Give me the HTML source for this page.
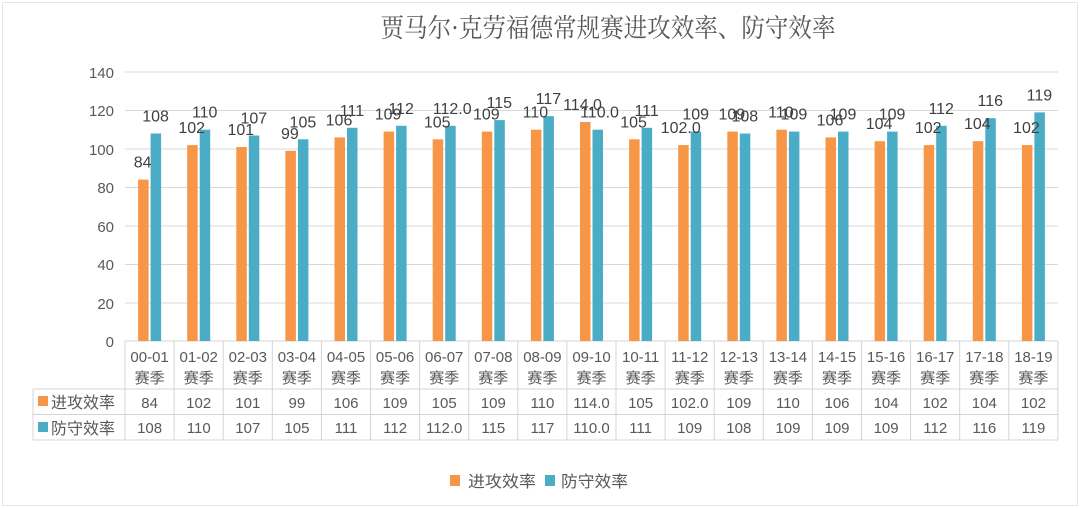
<!DOCTYPE html>
<html><head><meta charset="utf-8"><style>
html,body{margin:0;padding:0;background:#fff;}
svg{display:block;}
text{font-family:"Liberation Sans","Noto Sans CJK SC",sans-serif;fill:#595959;}
.t{font-size:15px;text-anchor:middle;}
.d{font-size:16px;text-anchor:middle;fill:#404040;}
.ax{font-size:15px;text-anchor:end;}
</style></head><body>
<svg width="1080" height="508" viewBox="0 0 1080 508" xmlns="http://www.w3.org/2000/svg">
<rect x="2.5" y="2.5" width="1075" height="503" fill="#fff" stroke="#e6e6e6"/>
<text x="608" y="37" style="font-family:'Noto Serif CJK SC','Liberation Serif',serif;font-size:26px;text-anchor:middle;fill:#595959" textLength="455" lengthAdjust="spacingAndGlyphs">贾马尔·克劳福德常规赛进攻效率、防守效率</text>
<g stroke="#d9d9d9" stroke-width="1">
<line x1="125" y1="72" x2="1058" y2="72"/>
<line x1="125" y1="110.5" x2="1058" y2="110.5"/>
<line x1="125" y1="149" x2="1058" y2="149"/>
<line x1="125" y1="187.5" x2="1058" y2="187.5"/>
<line x1="125" y1="226" x2="1058" y2="226"/>
<line x1="125" y1="264.5" x2="1058" y2="264.5"/>
<line x1="125" y1="303" x2="1058" y2="303"/>
</g>
<g class="ax">
<text class="ax" x="114" y="78">140</text>
<text class="ax" x="114" y="116">120</text>
<text class="ax" x="114" y="155">100</text>
<text class="ax" x="114" y="193">80</text>
<text class="ax" x="114" y="232">60</text>
<text class="ax" x="114" y="270">40</text>
<text class="ax" x="114" y="309">20</text>
<text class="ax" x="114" y="347">0</text>
</g>
<!-- table lines -->
<g stroke="#d4d4d4" stroke-width="1" fill="none">
<line x1="125" y1="341" x2="1058" y2="341"/>
<line x1="33" y1="389" x2="1058" y2="389"/>
<line x1="33" y1="414.5" x2="1058" y2="414.5"/>
<line x1="33" y1="440" x2="1058" y2="440"/>
<line x1="33" y1="389" x2="33" y2="440"/>
<line x1="125" y1="341" x2="125" y2="440"/>
<line x1="174.1" y1="341" x2="174.1" y2="440"/>
<line x1="223.2" y1="341" x2="223.2" y2="440"/>
<line x1="272.3" y1="341" x2="272.3" y2="440"/>
<line x1="321.4" y1="341" x2="321.4" y2="440"/>
<line x1="370.5" y1="341" x2="370.5" y2="440"/>
<line x1="419.6" y1="341" x2="419.6" y2="440"/>
<line x1="468.7" y1="341" x2="468.7" y2="440"/>
<line x1="517.8" y1="341" x2="517.8" y2="440"/>
<line x1="566.9" y1="341" x2="566.9" y2="440"/>
<line x1="616" y1="341" x2="616" y2="440"/>
<line x1="665.1" y1="341" x2="665.1" y2="440"/>
<line x1="714.2" y1="341" x2="714.2" y2="440"/>
<line x1="763.3" y1="341" x2="763.3" y2="440"/>
<line x1="812.4" y1="341" x2="812.4" y2="440"/>
<line x1="861.5" y1="341" x2="861.5" y2="440"/>
<line x1="910.6" y1="341" x2="910.6" y2="440"/>
<line x1="959.7" y1="341" x2="959.7" y2="440"/>
<line x1="1008.8" y1="341" x2="1008.8" y2="440"/>
<line x1="1057.9" y1="341" x2="1057.9" y2="440"/>
</g>
<rect x="38" y="396" width="10" height="10" fill="#F79646"/>
<text x="51" y="408" style="font-size:16px">进攻效率</text>
<rect x="38" y="422" width="10" height="10" fill="#4BACC6"/>
<text x="51" y="434" style="font-size:16px">防守效率</text>

<g transform="translate(149.6,0)"><rect x="-11.5" y="179.6" width="10.5" height="161.4" fill="#F79646"/><rect x="1" y="133.5" width="10.5" height="207.5" fill="#4BACC6"/><text class="d" x="-7" y="167.6">84</text><text class="d" x="6" y="121.5">108</text><text class="t" x="0" y="362">00-01</text><text class="t" x="0" y="383">赛季</text><text class="t" x="0" y="408">84</text><text class="t" x="0" y="433">108</text></g>
<g transform="translate(198.7,0)"><rect x="-11.5" y="145.1" width="10.5" height="195.9" fill="#F79646"/><rect x="1" y="129.7" width="10.5" height="211.3" fill="#4BACC6"/><text class="d" x="-7" y="133.1">102</text><text class="d" x="6" y="117.7">110</text><text class="t" x="0" y="362">01-02</text><text class="t" x="0" y="383">赛季</text><text class="t" x="0" y="408">102</text><text class="t" x="0" y="433">110</text></g>
<g transform="translate(247.8,0)"><rect x="-11.5" y="147" width="10.5" height="194" fill="#F79646"/><rect x="1" y="135.5" width="10.5" height="205.5" fill="#4BACC6"/><text class="d" x="-7" y="135">101</text><text class="d" x="6" y="123.5">107</text><text class="t" x="0" y="362">02-03</text><text class="t" x="0" y="383">赛季</text><text class="t" x="0" y="408">101</text><text class="t" x="0" y="433">107</text></g>
<g transform="translate(296.9,0)"><rect x="-11.5" y="150.8" width="10.5" height="190.2" fill="#F79646"/><rect x="1" y="139.3" width="10.5" height="201.7" fill="#4BACC6"/><text class="d" x="-7" y="138.8">99</text><text class="d" x="6" y="127.3">105</text><text class="t" x="0" y="362">03-04</text><text class="t" x="0" y="383">赛季</text><text class="t" x="0" y="408">99</text><text class="t" x="0" y="433">105</text></g>
<g transform="translate(346,0)"><rect x="-11.5" y="137.4" width="10.5" height="203.6" fill="#F79646"/><rect x="1" y="127.8" width="10.5" height="213.2" fill="#4BACC6"/><text class="d" x="-7" y="125.4">106</text><text class="d" x="6" y="115.8">111</text><text class="t" x="0" y="362">04-05</text><text class="t" x="0" y="383">赛季</text><text class="t" x="0" y="408">106</text><text class="t" x="0" y="433">111</text></g>
<g transform="translate(395.1,0)"><rect x="-11.5" y="131.6" width="10.5" height="209.4" fill="#F79646"/><rect x="1" y="125.8" width="10.5" height="215.2" fill="#4BACC6"/><text class="d" x="-7" y="119.6">109</text><text class="d" x="6" y="113.8">112</text><text class="t" x="0" y="362">05-06</text><text class="t" x="0" y="383">赛季</text><text class="t" x="0" y="408">109</text><text class="t" x="0" y="433">112</text></g>
<g transform="translate(444.2,0)"><rect x="-11.5" y="139.3" width="10.5" height="201.7" fill="#F79646"/><rect x="1" y="125.8" width="10.5" height="215.2" fill="#4BACC6"/><text class="d" x="-7" y="127.3">105</text><text class="d" x="8" y="113.8">112.0</text><text class="t" x="0" y="362">06-07</text><text class="t" x="0" y="383">赛季</text><text class="t" x="0" y="408">105</text><text class="t" x="0" y="433">112.0</text></g>
<g transform="translate(493.3,0)"><rect x="-11.5" y="131.6" width="10.5" height="209.4" fill="#F79646"/><rect x="1" y="120.1" width="10.5" height="220.9" fill="#4BACC6"/><text class="d" x="-7" y="119.6">109</text><text class="d" x="6" y="108.1">115</text><text class="t" x="0" y="362">07-08</text><text class="t" x="0" y="383">赛季</text><text class="t" x="0" y="408">109</text><text class="t" x="0" y="433">115</text></g>
<g transform="translate(542.4,0)"><rect x="-11.5" y="129.7" width="10.5" height="211.3" fill="#F79646"/><rect x="1" y="116.2" width="10.5" height="224.8" fill="#4BACC6"/><text class="d" x="-7" y="117.7">110</text><text class="d" x="6" y="104.2">117</text><text class="t" x="0" y="362">08-09</text><text class="t" x="0" y="383">赛季</text><text class="t" x="0" y="408">110</text><text class="t" x="0" y="433">117</text></g>
<g transform="translate(591.5,0)"><rect x="-11.5" y="122" width="10.5" height="219" fill="#F79646"/><rect x="1" y="129.7" width="10.5" height="211.3" fill="#4BACC6"/><text class="d" x="-9" y="110">114.0</text><text class="d" x="8" y="117.7">110.0</text><text class="t" x="0" y="362">09-10</text><text class="t" x="0" y="383">赛季</text><text class="t" x="0" y="408">114.0</text><text class="t" x="0" y="433">110.0</text></g>
<g transform="translate(640.6,0)"><rect x="-11.5" y="139.3" width="10.5" height="201.7" fill="#F79646"/><rect x="1" y="127.8" width="10.5" height="213.2" fill="#4BACC6"/><text class="d" x="-7" y="127.3">105</text><text class="d" x="6" y="115.8">111</text><text class="t" x="0" y="362">10-11</text><text class="t" x="0" y="383">赛季</text><text class="t" x="0" y="408">105</text><text class="t" x="0" y="433">111</text></g>
<g transform="translate(689.7,0)"><rect x="-11.5" y="145.1" width="10.5" height="195.9" fill="#F79646"/><rect x="1" y="131.6" width="10.5" height="209.4" fill="#4BACC6"/><text class="d" x="-9" y="133.1">102.0</text><text class="d" x="6" y="119.6">109</text><text class="t" x="0" y="362">11-12</text><text class="t" x="0" y="383">赛季</text><text class="t" x="0" y="408">102.0</text><text class="t" x="0" y="433">109</text></g>
<g transform="translate(738.8,0)"><rect x="-11.5" y="131.6" width="10.5" height="209.4" fill="#F79646"/><rect x="1" y="133.5" width="10.5" height="207.5" fill="#4BACC6"/><text class="d" x="-7" y="119.6">109</text><text class="d" x="6" y="121.5">108</text><text class="t" x="0" y="362">12-13</text><text class="t" x="0" y="383">赛季</text><text class="t" x="0" y="408">109</text><text class="t" x="0" y="433">108</text></g>
<g transform="translate(787.9,0)"><rect x="-11.5" y="129.7" width="10.5" height="211.3" fill="#F79646"/><rect x="1" y="131.6" width="10.5" height="209.4" fill="#4BACC6"/><text class="d" x="-7" y="117.7">110</text><text class="d" x="6" y="119.6">109</text><text class="t" x="0" y="362">13-14</text><text class="t" x="0" y="383">赛季</text><text class="t" x="0" y="408">110</text><text class="t" x="0" y="433">109</text></g>
<g transform="translate(837,0)"><rect x="-11.5" y="137.4" width="10.5" height="203.6" fill="#F79646"/><rect x="1" y="131.6" width="10.5" height="209.4" fill="#4BACC6"/><text class="d" x="-7" y="125.4">106</text><text class="d" x="6" y="119.6">109</text><text class="t" x="0" y="362">14-15</text><text class="t" x="0" y="383">赛季</text><text class="t" x="0" y="408">106</text><text class="t" x="0" y="433">109</text></g>
<g transform="translate(886.1,0)"><rect x="-11.5" y="141.2" width="10.5" height="199.8" fill="#F79646"/><rect x="1" y="131.6" width="10.5" height="209.4" fill="#4BACC6"/><text class="d" x="-7" y="129.2">104</text><text class="d" x="6" y="119.6">109</text><text class="t" x="0" y="362">15-16</text><text class="t" x="0" y="383">赛季</text><text class="t" x="0" y="408">104</text><text class="t" x="0" y="433">109</text></g>
<g transform="translate(935.2,0)"><rect x="-11.5" y="145.1" width="10.5" height="195.9" fill="#F79646"/><rect x="1" y="125.8" width="10.5" height="215.2" fill="#4BACC6"/><text class="d" x="-7" y="133.1">102</text><text class="d" x="6" y="113.8">112</text><text class="t" x="0" y="362">16-17</text><text class="t" x="0" y="383">赛季</text><text class="t" x="0" y="408">102</text><text class="t" x="0" y="433">112</text></g>
<g transform="translate(984.3,0)"><rect x="-11.5" y="141.2" width="10.5" height="199.8" fill="#F79646"/><rect x="1" y="118.2" width="10.5" height="222.8" fill="#4BACC6"/><text class="d" x="-7" y="129.2">104</text><text class="d" x="6" y="106.2">116</text><text class="t" x="0" y="362">17-18</text><text class="t" x="0" y="383">赛季</text><text class="t" x="0" y="408">104</text><text class="t" x="0" y="433">116</text></g>
<g transform="translate(1033.4,0)"><rect x="-11.5" y="145.1" width="10.5" height="195.9" fill="#F79646"/><rect x="1" y="112.4" width="10.5" height="228.6" fill="#4BACC6"/><text class="d" x="-7" y="133.1">102</text><text class="d" x="6" y="100.4">119</text><text class="t" x="0" y="362">18-19</text><text class="t" x="0" y="383">赛季</text><text class="t" x="0" y="408">102</text><text class="t" x="0" y="433">119</text></g>

<rect x="450" y="475" width="10" height="11" fill="#F79646"/>
<text x="468" y="487" style="font-size:16px" textLength="68" lengthAdjust="spacingAndGlyphs">进攻效率</text>
<rect x="545" y="475" width="10" height="11" fill="#4BACC6"/>
<text x="561" y="487" style="font-size:16px" textLength="67" lengthAdjust="spacingAndGlyphs">防守效率</text>
</svg>
</body></html>
